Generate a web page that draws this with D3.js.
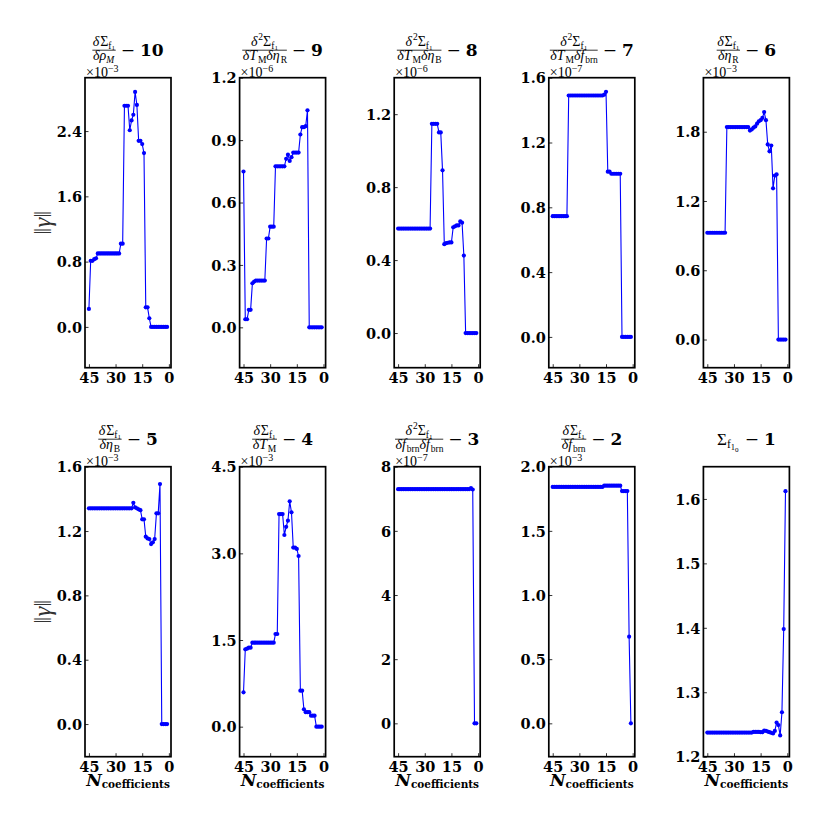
<!DOCTYPE html>
<html><head><meta charset="utf-8">
<script src="https://cdn.jsdelivr.net/npm/d3@7"></script>
<style>body{margin:0;background:#fff}</style>
</head><body>
<svg id="c" width="830" height="830" xmlns="http://www.w3.org/2000/svg"></svg>
<script>
// ---------------- DATA ----------------
const nCoeff = [45,44,43,42,41,40,39,38,37,36,35,34,33,32,31,30,29,28,27,26,25,24,23,22,21,20,19,18,17,16,15,14,13,12,11,10,9,8,7,6,5,4,3,2,1];
const xTickValues = [45, 30, 15, 0];

const vals10 = [0.22,0.81,0.81,0.83,0.84,
  0.90,0.90,0.90,0.90,0.90,0.90,0.90,0.90,0.90,0.90,0.90,0.90,0.90,
  1.02,1.02,2.71,2.71,2.71,2.41,2.53,2.60,2.88,2.72,2.28,2.28,2.24,2.13,
  0.24,0.24,0.106,0,0,0,0,0,0,0,0,0,0];
const vals9 = [0.749,0.039,0.039,0.084,0.084,0.212,0.220,
  0.225,0.225,0.225,0.225,0.225,0.225,0.427,0.427,0.484,0.484,0.484,
  0.774,0.774,0.774,0.774,0.774,0.774,
  0.81,0.83,0.80,0.818,0.84,0.84,0.84,0.84,
  0.927,0.962,0.962,0.967,1.043,0,0,0,0,0,0,0,0];
const vals8 = [0.573,0.573,0.573,0.573,0.573,0.573,0.573,0.573,0.573,0.573,
  0.573,0.573,0.573,0.573,0.573,0.573,0.573,0.573,0.573,
  1.147,1.147,1.147,1.147,1.10,1.10,0.892,
  0.487,0.493,0.495,0.497,0.497,0.58,0.585,0.59,0.59,0.612,0.605,0.425,
  0,0,0,0,0,0,0];
const vals7 = [0.745,0.745,0.745,0.745,0.745,0.745,0.745,0.745,0.745,
  1.49,1.49,1.49,1.49,1.49,1.49,1.49,1.49,1.49,1.49,
  1.49,1.49,1.49,1.49,1.49,1.49,1.49,1.49,1.49,1.49,
  1.495,1.513,1.02,1.02,1.007,1.007,1.007,1.007,1.007,1.007,
  0,0,0,0,0,0];
const vals6 = [0.925,0.925,0.925,0.925,0.925,0.925,0.925,0.925,0.925,0.925,0.925,
  1.84,1.84,1.84,1.84,1.84,1.84,1.84,1.84,1.84,1.84,1.84,1.84,1.84,
  1.81,1.82,1.835,1.846,1.87,1.89,1.90,1.92,1.97,1.90,1.69,1.63,1.68,1.31,1.42,1.43,
  0,0,0,0,0];
const vals5 = [1.341,1.341,1.341,1.341,1.341,1.341,1.341,1.341,1.341,1.341,
  1.341,1.341,1.341,1.341,1.341,1.341,1.341,1.341,1.341,1.341,
  1.341,1.341,1.341,1.341,1.341,
  1.376,1.347,1.341,1.335,1.33,1.273,1.273,1.165,1.154,1.15,1.119,1.13,1.15,1.31,1.31,1.492,
  0,0,0,0];
const vals4 = [0.594,1.339,1.35,1.368,1.368,
  1.454,1.454,1.454,1.454,1.454,1.454,1.454,1.454,1.454,1.454,1.454,1.454,1.454,
  1.604,1.604,3.68,3.68,3.68,3.318,3.46,3.566,3.90,3.71,3.10,3.10,3.076,2.954,
  0.623,0.623,0.30,0.25,0.25,0.25,0.19,0.19,0.19,0,0,0,0];
const vals3 = [7.30,7.30,7.30,7.30,7.30,7.30,7.30,7.30,7.30,7.30,
  7.30,7.30,7.30,7.30,7.30,7.30,7.30,7.30,7.30,7.30,
  7.30,7.30,7.30,7.30,7.30,7.30,7.30,7.30,7.30,7.30,
  7.30,7.30,7.30,7.30,7.30,7.30,7.30,7.30,7.30,7.30,7.30,
  7.33,7.29,0,0];
const vals2 = [1.842,1.842,1.842,1.842,1.842,1.842,1.842,1.842,1.842,1.842,
  1.842,1.842,1.842,1.842,1.842,1.842,1.842,1.842,1.842,1.842,
  1.842,1.842,1.842,1.842,1.842,1.842,1.842,1.842,1.842,
  1.852,1.852,1.852,1.852,1.852,1.852,1.852,1.852,1.852,1.852,
  1.81,1.81,1.81,1.81,0.675,0];
const vals1 = [1.2375,1.2375,1.2375,1.2375,1.2375,1.2375,1.2375,1.2375,1.2375,1.2375,
  1.2375,1.2375,1.2375,1.2375,1.2375,1.2375,1.2375,1.2375,1.2375,1.2375,
  1.2375,1.2375,1.2375,1.2375,1.2375,1.2375,
  1.2385,1.2385,1.2385,1.2385,
  1.238,1.238,1.2405,1.240,1.239,1.238,1.237,1.236,1.240,1.253,1.249,1.233,1.269,1.398,1.612];

// y axis: limits, ticks and exponent per panel (order as drawn)
const panelValues = [vals10, vals9, vals8, vals7, vals6, vals5, vals4, vals3, vals2, vals1];
const panelIndex  = ["10","9","8","7","6","5","4","3","2","1"];
const yLimits = [[-0.50,3.054],[-0.194,1.2],[-0.19,1.40],[-0.19,1.6],[-0.244,2.268],
                 [-0.203,1.6],[-0.52,4.5],[-1.04,8],[-0.26,2.0],[1.2,1.65]];
const yTickValues = [[0,0.8,1.6,2.4],[0,0.3,0.6,0.9,1.2],[0,0.4,0.8,1.2],[0,0.4,0.8,1.2,1.6],[0,0.6,1.2,1.8],
                     [0,0.4,0.8,1.2,1.6],[0,1.5,3.0,4.5],[0,2,4,6,8],[0,0.5,1.0,1.5,2.0],[1.2,1.3,1.4,1.5,1.6]];
const yTickDecimals = [1,1,1,1,1,1,1,0,1,1];
const yExponents = ["−3","−6","−6","−7","−3","−3","−3","−7","−3",null];

// title pieces: [text, kind]
const numD1 = [["δ","i"],["Σ","r"],["f","s"],["1","ss"]];
const numD2 = [["δ","i"],["2","sup"],["Σ","r"],["f","s"],["1","ss"]];
const titleNum = [numD1, numD2, numD2, numD2, numD1, numD1, numD1, numD2, numD1, null];
const titleDen = [
  [["δ","i"],["ρ","i"],["M","si"]],
  [["δ","i"],["T","i"],["M","s"],["δ","i"],["η","i"],["R","s"]],
  [["δ","i"],["T","i"],["M","s"],["δ","i"],["η","i"],["B","s"]],
  [["δ","i"],["T","i"],["M","s"],["δ","i"],["f","i"],["brn","s"]],
  [["δ","i"],["η","i"],["R","s"]],
  [["δ","i"],["η","i"],["B","s"]],
  [["δ","i"],["T","i"],["M","s"]],
  [["δ","i"],["f","i"],["brn","s"],["δ","i"],["f","i"],["brn","s"]],
  [["δ","i"],["f","i"],["brn","s"]],
  null];
const titlePlain = [null,null,null,null,null,null,null,null,null,
  [["Σ","r"],["f","s"],["1","ss"],["0","sss"]]];

// ---------------- LAYOUT ----------------
const svg = d3.select("#c");
const W = 86, H = 290;
const lefts = [85, 239.6, 394.2, 548.8, 703.4];
const tops = [77.7, 466.7];
const mathFont = "'Liberation Serif', 'DejaVu Serif', serif";
const tickFont = "'DejaVu Serif', serif";
const blue = "#0000ff";

const kinds = {
  i:   {f:1,    dy:0,   it:true},
  r:   {f:1,    dy:0,   it:false},
  s:   {f:0.68, dy:2.8, it:false},
  si:  {f:0.68, dy:2.8, it:true},
  ss:  {f:0.5,  dy:4.3, it:false},
  sss: {f:0.42, dy:5.6, it:false},
  sup: {f:0.68, dy:-5.5,it:false}
};

// one <text> per expression, pieces as tspans
function drawRuns(g, list, size) {
  const t = g.append("text").attr("x", 0).attr("y", 0)
    .attr("font-family", mathFont).attr("fill", "#000");
  let cur = 0, prevIt = false;
  list.forEach(([s, k], i) => {
    const st = kinds[k];
    const target = st.dy * size / 13;
    t.append("tspan")
      .attr("dy", target - cur)
      .attr("dx", (i > 0 && prevIt && !st.it) ? size * 0.06 : 0)
      .attr("font-size", size * st.f)
      .attr("font-style", st.it ? "italic" : "normal")
      .text(s);
    cur = target; prevIt = st.it;
  });
  return t.node().getComputedTextLength() + 1;
}

panelValues.forEach((vals, p) => {
  const row = Math.floor(p / 5), col = p % 5;
  const left = lefts[col], top = tops[row];
  const bottom = top + H;
  const x = d3.scaleLinear().domain([47.2, -1.2]).range([left, left + W]);
  const y = d3.scaleLinear().domain(yLimits[p]).range([bottom, top]);
  const g = svg.append("g");

  // y ticks
  const yAxis = d3.axisLeft(y).tickValues(yTickValues[p])
    .tickFormat(d3.format("." + yTickDecimals[p] + "f"))
    .tickSize(-3.5).tickPadding(3);
  const ya = g.append("g").attr("transform", `translate(${left},0)`).call(yAxis);
  ya.select(".domain").remove();
  ya.selectAll("line").attr("stroke", "#000").attr("stroke-width", 0.8);
  ya.selectAll("text").attr("font-family", tickFont).attr("font-weight", "bold")
    .attr("font-size", 14.5).attr("fill", "#000").attr("dy", "0.36em");

  // x ticks
  const xAxis = d3.axisBottom(x).tickValues(xTickValues).tickFormat(d3.format("d"))
    .tickSize(-3.5).tickPadding(5);
  const xa = g.append("g").attr("transform", `translate(0,${bottom})`).call(xAxis);
  xa.select(".domain").remove();
  xa.selectAll("line").attr("stroke", "#000").attr("stroke-width", 0.8);
  xa.selectAll("text").attr("font-family", tickFont).attr("font-weight", "bold")
    .attr("font-size", 14.5).attr("fill", "#000").attr("dy", "0.71em");

  // data line + markers
  const pts = nCoeff.map((n, i) => [n, vals[i]]);
  g.append("path").datum(pts)
    .attr("fill", "none").attr("stroke", blue).attr("stroke-width", 1.1)
    .attr("d", d3.line().x(d => x(d[0])).y(d => y(d[1])));
  g.append("g").selectAll("circle").data(pts).join("circle")
    .attr("cx", d => x(d[0])).attr("cy", d => y(d[1])).attr("r", 2.1)
    .attr("fill", blue);

  // frame
  g.append("rect").attr("x", left).attr("y", top).attr("width", W).attr("height", H)
    .attr("fill", "none").attr("stroke", "#000").attr("stroke-width", 1.7);

  // exponent label
  if (yExponents[p]) {
    const t = g.append("text").attr("x", left + 1).attr("y", top - 1.2)
      .attr("font-family", mathFont).attr("font-size", 14).attr("fill", "#000");
    t.append("tspan").text("×10");
    t.append("tspan").attr("font-size", 10).attr("dy", -5).text(yExponents[p]);
  }

  // title
  const cx = left + W / 2;
  const barY = top - 27.5;
  const tg = g.append("g");
  let w0;
  if (titleNum[p]) {
    const ng = tg.append("g"), dg = tg.append("g");
    const wn = drawRuns(ng, titleNum[p], 14);
    const wd = drawRuns(dg, titleDen[p], 14);
    const fw = Math.max(wn, wd) + 1;
    ng.attr("transform", `translate(${(fw - wn) / 2},${barY - 4.5})`);
    dg.attr("transform", `translate(${(fw - wd) / 2},${barY + 9.5})`);
    tg.append("line").attr("x1", 0).attr("x2", fw).attr("y1", barY).attr("y2", barY)
      .attr("stroke", "#000").attr("stroke-width", 0.8);
    w0 = fw + 5;
  } else {
    const pg = tg.append("g");
    const wp = drawRuns(pg, titlePlain[p], 17);
    pg.attr("transform", `translate(0,${barY + 5.5})`);
    w0 = wp + 5;
  }
  const kt = tg.append("text").attr("x", w0).attr("y", barY + 5.5)
    .attr("font-family", tickFont).attr("font-size", 17).attr("fill", "#000");
  kt.append("tspan").text("−");
  kt.append("tspan").attr("dx", 5).attr("font-weight", "bold").text(panelIndex[p]);
  const wt = w0 + kt.node().getComputedTextLength() + 5;
  tg.attr("transform", `translate(${cx - wt / 2},0)`);

  // y label
  if (col === 0) {
    const cy = (top + bottom) / 2;
    const yl = g.append("text")
      .attr("transform", `translate(51,${cy}) rotate(-90)`)
      .attr("text-anchor", "middle").attr("font-family", mathFont)
      .attr("font-size", 25).attr("fill", "#333");
    yl.append("tspan").text("‖");
    yl.append("tspan").attr("font-style", "italic").text("γ");
    yl.append("tspan").text("‖");
  }

  // x label
  if (row === 1) {
    const xl = g.append("text").attr("x", cx).attr("y", bottom + 29)
      .attr("text-anchor", "middle").attr("font-family", tickFont)
      .attr("font-weight", "bold").attr("fill", "#000");
    xl.append("tspan").attr("font-style", "italic").attr("font-size", 17).text("N");
    xl.append("tspan").attr("font-size", 10.5).attr("dy", 2.5).text("coefficients");
  }
});
</script>
</body></html>
